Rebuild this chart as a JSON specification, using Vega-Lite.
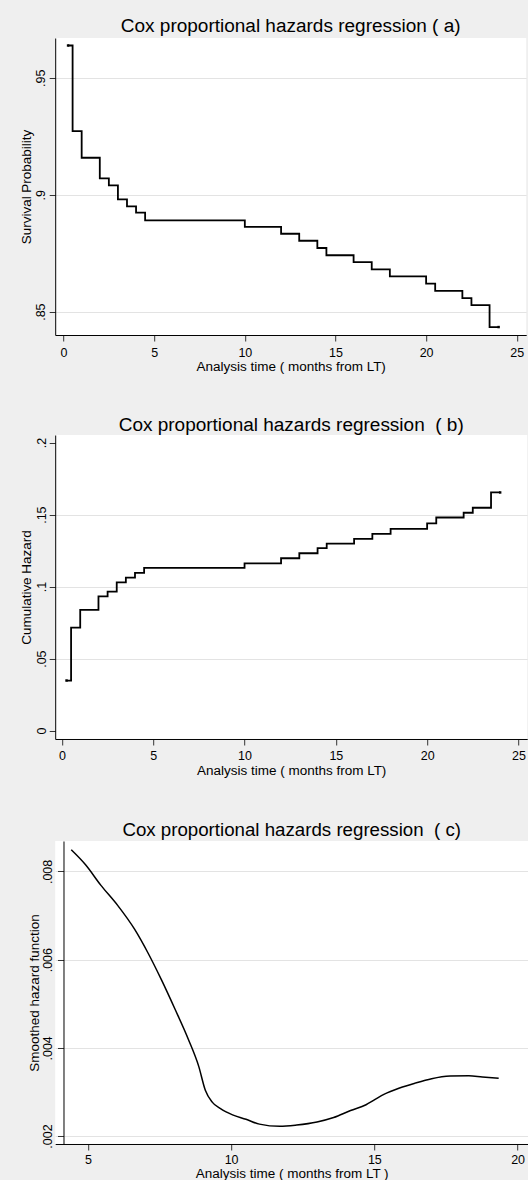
{
  "$schema": "https://vega.github.io/schema/vega-lite/v6.json",
  "background": "#efefef",
  "padding": {"left": 19.2, "top": 16, "right": 0, "bottom": 0},
  "spacing": 43,
  "config": {
    "font": "Liberation Sans",
    "view": {"fill": "white", "stroke": null},
    "axis": {
      "labelFont": "Liberation Sans", "titleFont": "Liberation Sans",
      "labelFontSize": 12.5, "titleFontSize": 13.5, "titleFontWeight": "normal",
      "labelColor": "#000", "titleColor": "#000",
      "domainColor": "#000", "domainWidth": 1, "tickColor": "#333", "tickWidth": 1,
      "tickSize": 6, "gridColor": "#e3e3e3", "gridWidth": 1,
      "labelFlush": false, "labelOverlap": false, "labelBound": false
    },
    "axisX": {"grid": false, "labelPadding": 5, "titlePadding": 1},
    "axisY": {
      "labelAngle": 270, "labelAlign": "center", "labelBaseline": "alphabetic",
      "minExtent": 22, "maxExtent": 22, "labelPadding": 5,
      "titleAngle": 270, "titleAlign": "center", "titleBaseline": "alphabetic", "titlePadding": 3,
      "labelExpr": "datum.value === 0 ? '0' : substring(toString(datum.value), 1)"
    },
    "title": {"font": "Liberation Sans", "fontSize": 19, "fontWeight": "normal", "color": "#000", "anchor": "middle", "baseline": "alphabetic"}
  },
  "vconcat": [
    {
      "width": 471, "height": 297,
      "title": {"text": "Cox proportional hazards regression ( a)", "offset": 2.2},
      "data": {"values": [
        {"t": 0.25, "s": 0.9638}, {"t": 0.5, "s": 0.9272}, {"t": 1, "s": 0.9158}, {"t": 2, "s": 0.907},
        {"t": 2.5, "s": 0.904}, {"t": 3, "s": 0.898}, {"t": 3.5, "s": 0.895}, {"t": 4, "s": 0.8923},
        {"t": 4.5, "s": 0.889}, {"t": 10, "s": 0.8862}, {"t": 12, "s": 0.8833}, {"t": 13, "s": 0.8803},
        {"t": 14, "s": 0.8772}, {"t": 14.5, "s": 0.8741}, {"t": 16, "s": 0.8712}, {"t": 17, "s": 0.8681},
        {"t": 18, "s": 0.8651}, {"t": 20, "s": 0.862}, {"t": 20.5, "s": 0.8589}, {"t": 22, "s": 0.8558},
        {"t": 22.5, "s": 0.8528}, {"t": 23.5, "s": 0.8434}, {"t": 24, "s": 0.8434}
      ]},
      "encoding": {
        "x": {"field": "t", "type": "quantitative",
              "scale": {"domain": [-0.46, 25.52], "nice": false, "zero": false},
              "axis": {"values": [0, 5, 10, 15, 20, 25], "title": "Analysis time ( months from LT)"}},
        "y": {"field": "s", "type": "quantitative",
              "scale": {"domain": [0.840, 0.967], "nice": false, "zero": false},
              "axis": {"values": [0.85, 0.9, 0.95], "title": "Survival Probability"}}
      },
      "layer": [
        {"mark": {"type": "line", "interpolate": "step-after", "color": "#000", "strokeWidth": 1.8}},
        {"transform": [{"filter": "datum.t < 0.3 || datum.t > 23.9"}],
         "mark": {"type": "point", "shape": "square", "filled": true, "size": 6, "color": "#000", "opacity": 1}}
      ]
    },
    {
      "width": 472, "height": 304,
      "title": {"text": "Cox proportional hazards regression\u00a0 ( b)", "offset": 0},
      "data": {"values": [
        {"t": 0.25, "H": 0.0348}, {"t": 0.5, "H": 0.0715}, {"t": 1, "H": 0.0838}, {"t": 2, "H": 0.0933},
        {"t": 2.5, "H": 0.0965}, {"t": 3, "H": 0.103}, {"t": 3.5, "H": 0.1063}, {"t": 4, "H": 0.1095},
        {"t": 4.5, "H": 0.113}, {"t": 10, "H": 0.1162}, {"t": 12, "H": 0.1197}, {"t": 13, "H": 0.1232},
        {"t": 14, "H": 0.1267}, {"t": 14.5, "H": 0.1299}, {"t": 16, "H": 0.1332}, {"t": 17, "H": 0.1367},
        {"t": 18, "H": 0.1401}, {"t": 20, "H": 0.1439}, {"t": 20.5, "H": 0.148}, {"t": 22, "H": 0.1513},
        {"t": 22.5, "H": 0.1548}, {"t": 23.5, "H": 0.1654}, {"t": 24, "H": 0.1654}
      ]},
      "encoding": {
        "x": {"field": "t", "type": "quantitative",
              "scale": {"domain": [-0.37, 25.48], "nice": false, "zero": false},
              "axis": {"values": [0, 5, 10, 15, 20, 25], "title": "Analysis time ( months from LT)"}},
        "y": {"field": "H", "type": "quantitative",
              "scale": {"domain": [-0.0058, 0.2053], "nice": false, "zero": false},
              "axis": {"values": [0, 0.05, 0.1, 0.15, 0.2], "title": "Cumulative Hazard", "labelPadding": 3.5,
                       "gridOpacity": {"condition": {"test": "datum.value === 0 || datum.value === 0.2", "value": 0}, "value": 1}}}
      },
      "layer": [
        {"mark": {"type": "line", "interpolate": "step-after", "color": "#000", "strokeWidth": 1.8}},
        {"transform": [{"filter": "datum.t < 0.3 || datum.t > 23.9"}],
         "mark": {"type": "point", "shape": "square", "filled": true, "size": 6, "color": "#000", "opacity": 1}}
      ]
    },
    {
      "width": 473, "height": 303,
      "title": {"text": "Cox proportional hazards regression\u00a0 ( c)", "offset": 1.5, "fontSize": 18.7},
      "data": {"values": [
        {"t": 4.42, "h": 0.00849}, {"t": 4.92, "h": 0.00815}, {"t": 5.45, "h": 0.00769}, {"t": 6.04, "h": 0.00723},
        {"t": 6.63, "h": 0.00669}, {"t": 7.10, "h": 0.00615}, {"t": 7.57, "h": 0.00554}, {"t": 8.04, "h": 0.00488},
        {"t": 8.51, "h": 0.00419}, {"t": 8.87, "h": 0.00358}, {"t": 9.10, "h": 0.00304}, {"t": 9.34, "h": 0.00277},
        {"t": 9.63, "h": 0.00262}, {"t": 10.05, "h": 0.00248}, {"t": 10.52, "h": 0.00238}, {"t": 10.99, "h": 0.00227},
        {"t": 11.70, "h": 0.00222}, {"t": 12.29, "h": 0.00225}, {"t": 13.0, "h": 0.00232}, {"t": 13.58, "h": 0.00242},
        {"t": 14.17, "h": 0.00258}, {"t": 14.71, "h": 0.00271}, {"t": 15.0, "h": 0.00282}, {"t": 15.35, "h": 0.00295},
        {"t": 15.88, "h": 0.00309}, {"t": 16.42, "h": 0.0032}, {"t": 17.0, "h": 0.0033}, {"t": 17.65, "h": 0.00336},
        {"t": 18.30, "h": 0.00337}, {"t": 18.77, "h": 0.00334}, {"t": 19.34, "h": 0.00331}
      ]},
      "mark": {"type": "line", "interpolate": "monotone", "color": "#000", "strokeWidth": 1.5},
      "encoding": {
        "x": {"field": "t", "type": "quantitative",
              "scale": {"domain": [3.86, 20.37], "nice": false, "zero": false},
              "axis": {"values": [5, 10, 15, 20], "title": "Analysis time ( months from LT )", "labelPadding": 4, "titlePadding": 0}},
        "y": {"field": "h", "type": "quantitative",
              "scale": {"domain": [0.00182, 0.00869], "nice": false, "zero": false},
              "axis": {"values": [0.002, 0.004, 0.006, 0.008], "title": "Smoothed hazard function",
                       "offset": -8.3, "labelPadding": 6}}
      }
    }
  ]
}
